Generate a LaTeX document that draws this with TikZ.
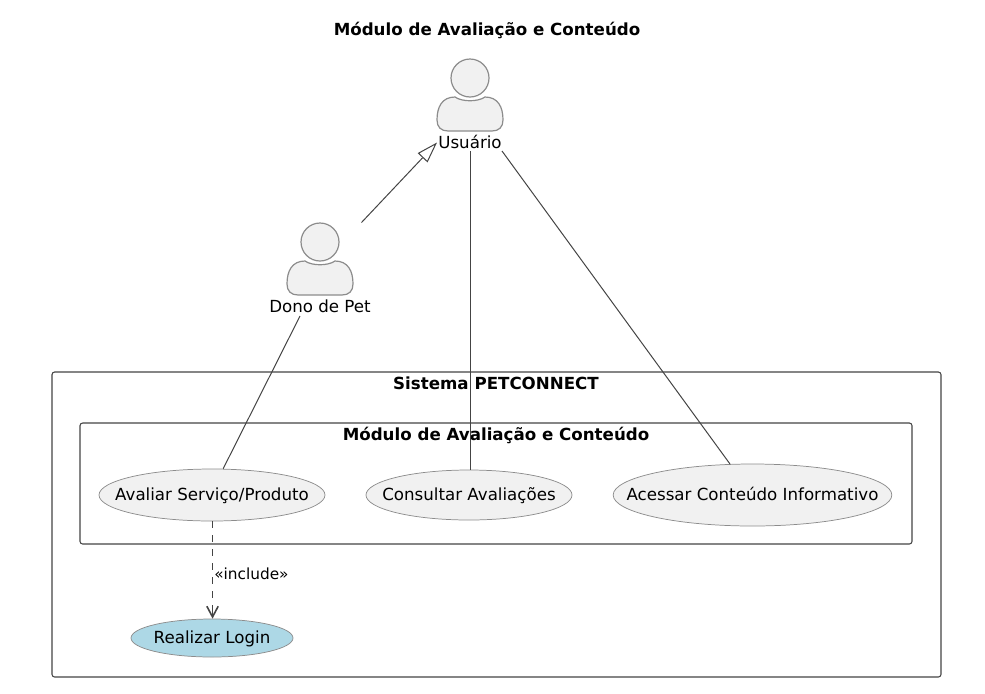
\documentclass[tikz,border=0pt]{standalone}
\usepackage{fontspec}
\setmainfont{DejaVu Sans}
\usetikzlibrary{shapes.geometric,arrows.meta}
\definecolor{actfill}{HTML}{F1F1F1}
\definecolor{actline}{HTML}{8C8C8C}
\definecolor{linec}{HTML}{444444}
\definecolor{loginblue}{HTML}{ADD8E6}
\newcommand{\uctext}[1]{\makebox[0pt]{\smash{\raisebox{-4pt}{#1}}}}
\tikzset{
  x=0.75pt,y=-0.75pt,
  txt/.style={inner sep=0pt,font=\fontsize{12.5}{14}\selectfont,text=black},
  lbl/.style={inner sep=0pt,font=\fontsize{11.5}{13}\selectfont,text=black},
  ttl/.style={inner sep=0pt,font=\fontsize{12.5}{14}\selectfont\bfseries,text=black},
  uc/.style={ellipse,draw=actline,line width=0.55pt,fill=actfill,inner sep=0pt,font=\fontsize{12.5}{14}\selectfont,text=black},
  actorshape/.style={draw=actline,line width=0.9pt,fill=actfill},
  frm/.style={draw=linec,line width=0.8pt,rounded corners=2pt},
  conn/.style={draw=linec,line width=0.75pt},
}
\newcommand{\actorfig}[2]{%
  \fill[actorshape] (#1,#2) circle[radius=19];
  \fill[actorshape] (#1-33,#2+42) .. controls (#1-33,#2+29) and (#1-28,#2+19) .. (#1-15,#2+19)
    .. controls (#1-8,#2+24) and (#1+8,#2+24) .. (#1+15,#2+19)
    .. controls (#1+28,#2+19) and (#1+33,#2+29) .. (#1+33,#2+42)
    .. controls (#1+33,#2+49) and (#1+29,#2+53) .. (#1+22,#2+53)
    -- (#1-22,#2+53) .. controls (#1-29,#2+53) and (#1-33,#2+49) .. (#1-33,#2+42) -- cycle;
}
\begin{document}
\begin{tikzpicture}
\useasboundingbox (0,0) rectangle (985,693);
\node[ttl] (title) at (487,30) {Módulo de Avaliação e Conteúdo};
\draw[frm] (52,372) rectangle (941,677);
\draw[frm] (80,423) rectangle (912,544);
\node[ttl] (sys) at (496,383) {Sistema PETCONNECT};
\node[ttl] (mod) at (496,435) {Módulo de Avaliação e Conteúdo};
\actorfig{470}{78}
\actorfig{320}{242}
\node[txt] (usuario) at (470,142) {Usuário};
\node[txt] (dono) at (320,306) {Dono de Pet};
\node[uc,minimum width=169.5pt,minimum height=39pt] (avaliar) at (212,495) {\uctext{Avaliar Serviço/Produto}};
\node[uc,minimum width=154.5pt,minimum height=37.5pt] (consultar) at (469,495) {\uctext{Consultar Avaliações}};
\node[uc,minimum width=209pt,minimum height=46.5pt] (acessar) at (752.5,495) {\uctext{Acessar Conteúdo Informativo}};
\node[uc,fill=loginblue,minimum width=121.5pt,minimum height=28.5pt] (login) at (212,638) {\uctext{Realizar Login}};
\coordinate (genstart) at (361.5,222.5);
\coordinate (gentip) at (437,142.5);
\coordinate (donoout) at (300,316);
\coordinate (usermid) at (470.5,151);
\coordinate (userright) at (502,151);
\draw[conn,-{Triangle[open,fill=white,length=15.75pt,width=10pt]}] (genstart) -- (gentip);
\draw[conn] (donoout) -- (avaliar.67);
\draw[conn] (usermid) -- (consultar.north -| usermid);
\draw[conn] (userright) -- (acessar.126);
\draw[conn,dash pattern=on 5.25pt off 5.25pt] ([xshift=0.4pt]avaliar.south) -- ([xshift=0.4pt]login.north);
\draw[conn,-{Straight Barb[length=8pt,width=8.5pt,line width=1.2pt]}] ([xshift=0.4pt,yshift=9pt]login.north) -- ([xshift=0.4pt]login.north);
\node[lbl,anchor=west] (inc) at (214,574) {«include»};
\end{tikzpicture}
\end{document}
